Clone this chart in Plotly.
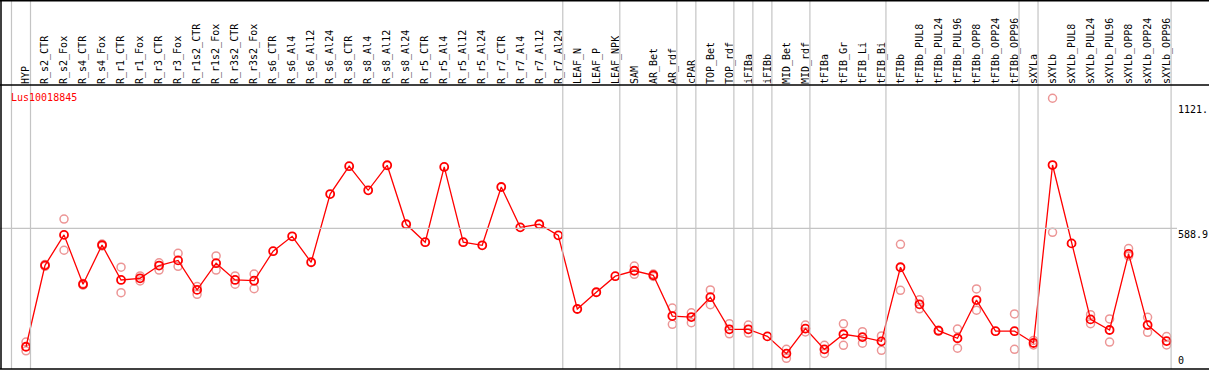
import plotly.graph_objects as go

categories = ["HYP", "R_s2_CTR", "R_s2_Fox", "R_s4_CTR", "R_s4_Fox", "R_r1_CTR", "R_r1_Fox",
              "R_r3_CTR", "R_r3_Fox", "R_r1s2_CTR", "R_r1s2_Fox", "R_r3s2_CTR", "R_r3s2_Fox",
              "R_s6_CTR", "R_s6_Al4", "R_s6_Al12", "R_s6_Al24", "R_s8_CTR", "R_s8_Al4", "R_s8_Al12",
              "R_s8_Al24", "R_r5_CTR", "R_r5_Al4", "R_r5_Al12", "R_r5_Al24", "R_r7_CTR", "R_r7_Al4",
              "R_r7_Al12", "R_r7_Al24", "LEAF_N", "LEAF_P", "LEAF_NPK", "SAM", "AR_Bet", "AR_rdf",
              "cPAR", "TOP_Bet", "TOP_rdf", "iFIBa", "iFIBb", "MID_Bet", "MID_rdf", "tFIBa",
              "tFIB_Gr", "tFIB_Li", "tFIB_Bi", "tFIBb", "tFIBb_PUL8", "tFIBb_PUL24", "tFIBb_PUL96",
              "tFIBb_OPP8", "tFIBb_OPP24", "tFIBb_OPP96", "sXYLa", "sXYLb", "sXYLb_PUL8",
              "sXYLb_PUL24", "sXYLb_PUL96", "sXYLb_OPP8", "sXYLb_OPP24", "sXYLb_OPP96"]

mean_values = [87, 432, 561, 352, 518, 370, 377, 431, 453, 328, 441, 370, 367,
               492, 555, 445, 734, 852, 750, 856, 606, 530, 849, 530, 517, 764, 593, 606, 559,
               247, 318, 386, 409, 390, 217, 213, 297, 161, 161, 131, 58, 164, 76,
               140, 128, 110, 424, 267, 155, 123, 285, 153, 153, 103, 857, 525,
               203, 158, 481, 179, 111]

rep1_values = [107, 436, 628, 355, 522, 424, 387, 443, 483, 342, 472, 387, 395,
               None, None, None, None, None, None, None, None, None, None, None, None, None, None, None, None,
               None, None, None, 429, 395, 251, 231, 328, 185, 179, None, 76, 179, 93,
               184, 151, 133, 521, 286, 157, 162, 332, None, 226, 114, 1140, None,
               223, 205, 503, 212, 130]

rep2_values = [70, 428, 496, 348, 514, 316, 366, 412, 428, 309, 412, 352, 333,
               None, None, None, None, None, None, None, None, None, None, None, None, None, None, None, None,
               None, None, None, 394, 385, 182, 189, 265, 142, 145, None, 38, 150, 59,
               93, 102, 72, 326, 248, 153, 81, 242, None, 76, 95, 572, None,
               185, 107, 472, 148, 95]

# indices of categories after which a separator line is drawn (-1 = before the first)
group_ends = [-1, 0, 28, 31, 34, 35, 37, 38, 39, 41, 45, 52, 53, 60]

gene_id = "Lus10018845"
scale_labels = ["1121.", "588.9", "0"]
scale_values = [1121, 588.9, 0]
grid_value = 588.9

W, H = 1209, 370
FONT = "DejaVu Sans Mono"
x = list(range(len(categories)))

fig = go.Figure()
rx = [i for i, v in enumerate(rep1_values) if v is not None]
fig.add_trace(go.Scatter(
    x=rx + [i for i, v in enumerate(rep2_values) if v is not None],
    y=[rep1_values[i] for i in rx] + [v for v in rep2_values if v is not None],
    mode="markers",
    marker=dict(symbol="circle-open", size=8, color="rgb(236,150,150)", line=dict(width=1.5)),
    showlegend=False, hoverinfo="skip"))
fig.add_trace(go.Scatter(
    x=x, y=mean_values, mode="lines+markers",
    line=dict(color="red", width=1.3),
    marker=dict(symbol="circle-open", size=8, color="red", line=dict(width=1.8)),
    showlegend=False))

# pixel mapping helpers
px_per_cat = 19.01
x0_px = 26.0
xr = [(0 - x0_px) / px_per_cat, (W - x0_px) / px_per_cat]
zero_px, units_per_px = 367.3, 4.237
top_px, bot_px = 85, 369
yr = [(zero_px - bot_px) * units_per_px, (zero_px - top_px) * units_per_px]

shapes = []
for g in group_ends:
    xs = g + 4.5 / px_per_cat
    shapes.append(dict(type="line", xref="x", yref="paper", x0=xs, x1=xs,
                       y0=(H - bot_px) / H, y1=1, line=dict(color="#c4c4c4", width=1.2)))
shapes.append(dict(type="line", xref="paper", yref="y", x0=0, x1=1177 / W,
                   y0=grid_value, y1=grid_value, line=dict(color="#c4c4c4", width=1.2)))
# frame lines
for ypx in [0.75, top_px, bot_px]:
    shapes.append(dict(type="line", xref="paper", yref="paper", x0=0, x1=1,
                       y0=(H - ypx) / H, y1=(H - ypx) / H, line=dict(color="black", width=1.5)))
shapes.append(dict(type="line", xref="paper", yref="paper", x0=1 / W, x1=1 / W,
                   y0=(H - bot_px) / H, y1=1, line=dict(color="black", width=1.5)))

annotations = [dict(text=gene_id, xref="paper", yref="paper", x=9 / W, y=(H - 97) / H,
                    xanchor="left", yanchor="middle", showarrow=False,
                    font=dict(family=FONT, size=10, color="red"))]
for lab, val in zip(scale_labels, scale_values):
    annotations.append(dict(text=lab, xref="paper", yref="y", x=1177 / W, y=val,
                            xanchor="left", yanchor="bottom" if val == 0 else "top",
                            showarrow=False, borderpad=0,
                            font=dict(family=FONT, size=10, color="black")))

fig.update_layout(
    width=W, height=H, margin=dict(l=0, r=0, t=0, b=0),
    paper_bgcolor="white", plot_bgcolor="white",
    font=dict(family=FONT, size=10, color="black"),
    shapes=shapes, annotations=annotations,
    xaxis=dict(range=xr, domain=[0, 1], side="top", showgrid=False, zeroline=False,
               showline=False, tickmode="array", tickvals=x, ticktext=categories,
               tickangle=-90, ticks="", ticklabelstandoff=0,
               tickfont=dict(family=FONT, size=10, color="black")),
    yaxis=dict(range=yr, domain=[(H - bot_px) / H, (H - top_px) / H], showgrid=False,
               zeroline=False, showline=False, showticklabels=False, ticks=""),
)
fig.write_html("out.html", config={"displayModeBar": False},
               post_script="document.body.style.margin='0';document.body.style.overflow='hidden';")
